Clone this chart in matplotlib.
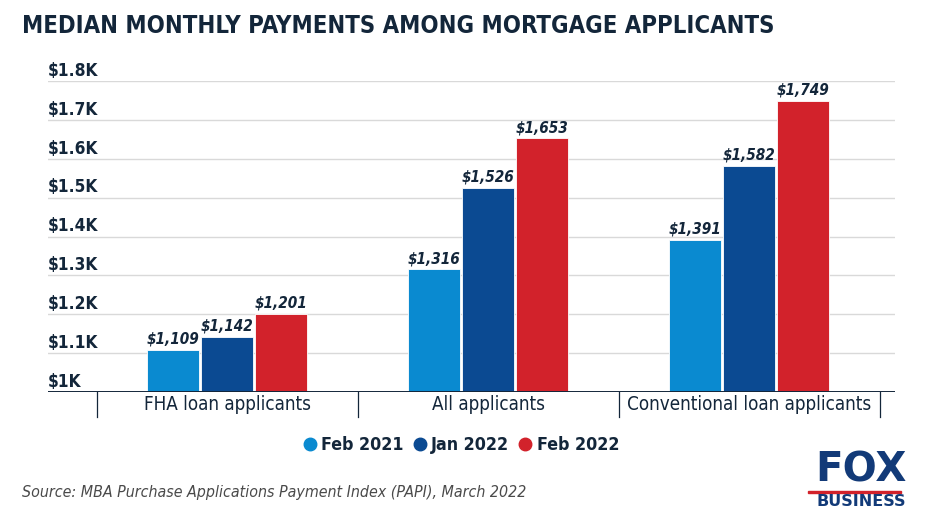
import matplotlib
matplotlib.use("Agg")
import matplotlib.pyplot as plt
from matplotlib.lines import Line2D
from matplotlib.patches import Rectangle
import matplotlib.transforms as mtransforms
import numpy as np

categories = ["FHA loan applicants", "All applicants", "Conventional loan applicants"]
series_names = ["Feb 2021", "Jan 2022", "Feb 2022"]
feb2021 = [1109, 1316, 1391]
jan2022 = [1142, 1526, 1582]
feb2022 = [1201, 1653, 1749]
yticks = [1000, 1100, 1200, 1300, 1400, 1500, 1600, 1700, 1800]
ytick_labels = ["$1K", "$1.1K", "$1.2K", "$1.3K", "$1.4K", "$1.5K", "$1.6K", "$1.7K", "$1.8K"]

colors = ["#0a8ad0", "#0b4a92", "#d2222b"]
navy = "#13263a"
FONT = "DejaVu Sans"

fig = plt.figure(figsize=(9.31, 5.23), dpi=100)
W, H = 931, 523
ax = fig.add_axes([48 / W, 1 - 392 / H, (895 - 48) / W, (392 - 81) / H])

x = np.arange(len(categories))
offsets = [-0.206, 0.0, 0.206]
width = 0.2
for vals, off, c in zip([feb2021, jan2022, feb2022], offsets, colors):
    ax.bar(x + off, np.array(vals) - 1000, width=width, bottom=1000,
           color=c, edgecolor="white", linewidth=0.6, zorder=3)
    for xi, v in zip(x + off, vals):
        ax.text(xi, v + 8, f"${v:,}", ha="center", va="bottom", fontsize=11,
                fontweight="bold", style="italic", color=navy, family=FONT,
                fontstretch="condensed", zorder=4)

ax.set_xlim(-0.686, 2.559)
ax.set_ylim(1000, 1800)
for s in ax.spines.values():
    s.set_visible(False)
ax.set_xticks([])
ax.set_yticks([])
for t in yticks[1:]:
    ax.axhline(t, color="#d9d9d9", lw=1, zorder=1)
ax.axhline(1000, color=navy, lw=1.4, zorder=5)

trans = mtransforms.blended_transform_factory(ax.transAxes, ax.transData)
for t, lab in zip(yticks, ytick_labels):
    ax.text(0.0, t + 3, lab, transform=trans, ha="left", va="bottom",
            fontsize=12.4, fontweight="bold", color=navy, family=FONT,
            fontstretch="condensed")

trans2 = mtransforms.blended_transform_factory(ax.transData, ax.transAxes)
for sx in [-0.5, 0.5, 1.5, 2.5]:
    ax.plot([sx, sx], [0, -0.08], transform=trans2, color=navy, lw=0.9, clip_on=False)
for xi, cat in zip(x, categories):
    ax.text(xi, -0.04, cat, transform=trans2, ha="center", va="center",
            fontsize=13.5, color=navy, family=FONT, fontstretch="condensed")

handles = [Line2D([0], [0], marker="o", color="none", markerfacecolor=c,
                  markeredgecolor=c, markersize=9) for c in colors]
leg = fig.legend(handles, series_names, loc="center", bbox_to_anchor=(460 / W, 1 - 445 / H),
                 ncol=3, frameon=False, handletextpad=0.15, columnspacing=0.4,
                 handlelength=1.0,
                 prop={"family": FONT, "size": 12.8, "weight": "bold", "stretch": "condensed"})
for txt in leg.get_texts():
    txt.set_color(navy)

fig.text(22 / W, 1 - 26 / H, "MEDIAN MONTHLY PAYMENTS AMONG MORTGAGE APPLICANTS",
         ha="left", va="center", fontsize=17.1, fontweight="bold", color=navy,
         family=FONT, fontstretch="condensed")
fig.text(22 / W, 1 - 492 / H, "Source: MBA Purchase Applications Payment Index (PAPI), March 2022",
         ha="left", va="center", fontsize=11.4, style="italic", color="#4a4a4a",
         family=FONT, fontstretch="condensed")

# logo
fig.text(861 / W, 1 - 470 / H, "FOX", ha="center", va="center", fontsize=29,
         fontweight="heavy", color="#123a78", family=FONT)
fig.patches.append(Rectangle((808 / W, 1 - 493 / H), 93 / W, 2.5 / H,
                             transform=fig.transFigure, color="#d2222b"))
fig.text(861 / W, 1 - 502 / H, "BUSINESS", ha="center", va="center", fontsize=11.5,
         fontweight="bold", color="#123a78", family=FONT)

fig.savefig("out.png", dpi=100)
